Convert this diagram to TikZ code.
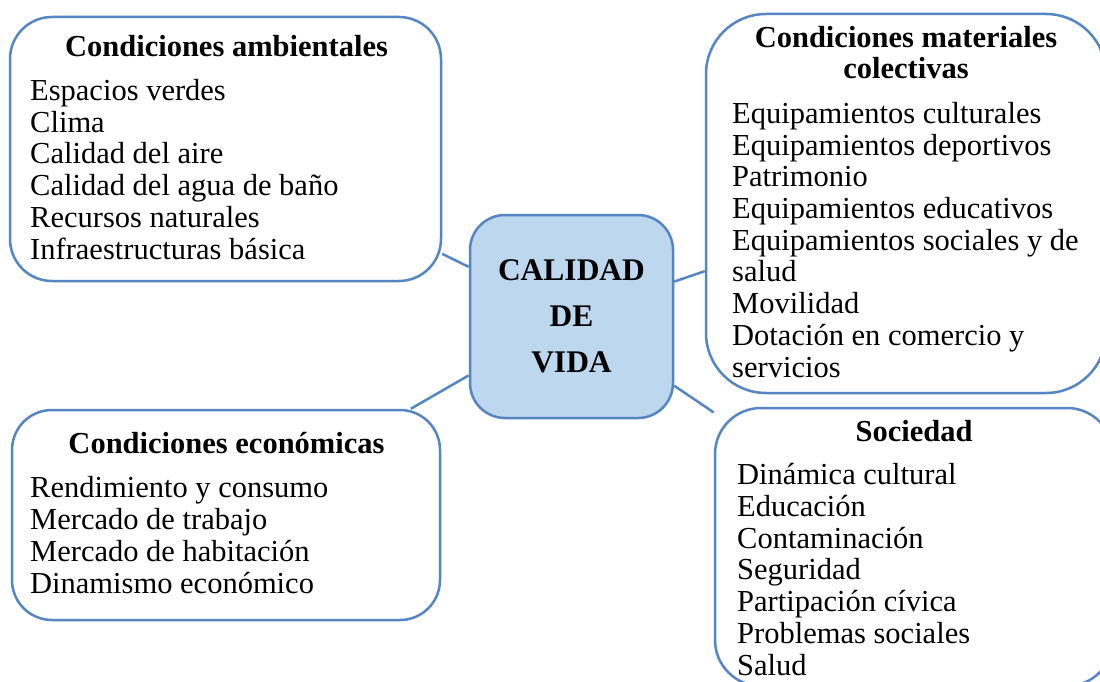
\documentclass[tikz,border=0pt]{standalone}
\usepackage{fontspec}
\setmainfont{Liberation Serif}
\definecolor{edgeblue}{HTML}{5585C2}
\definecolor{centfill}{HTML}{BDD7EE}
\begin{document}
\begin{tikzpicture}[x=1pt,y=-1pt,
  box/.style={draw=edgeblue, line width=2.5pt, rounded corners=#1, inner sep=0pt},
  box/.default=40pt,
  conn/.style={draw=edgeblue, line width=2.5pt},
  ttl/.style={anchor=base, inner sep=0pt, font=\fontsize{30.5pt}{31.7pt}\selectfont\bfseries, align=center},
  lst/.style={anchor=base west, inner sep=0pt, font=\fontsize{30.5pt}{31.7pt}\selectfont, align=left}]
\clip (0,0) rectangle (1100,682);
\fill[white] (0,0) rectangle (1100,682);
% boxes
\node[box=42pt, minimum width=431pt, minimum height=264pt] (amb) at (225.5,149) {};
\node[box=60pt, minimum width=400pt, minimum height=379pt] (mat) at (906,203.5) {};
\node[box=35pt, fill=centfill, minimum width=203pt, minimum height=203pt,
      font=\fontsize{31.5pt}{46pt}\selectfont\bfseries, align=center] (cen) at (571.5,316.5) {CALIDAD\\DE\\VIDA};
\node[box=40pt, minimum width=428pt, minimum height=210pt] (eco) at (226,515) {};
\node[box=46pt, minimum width=398pt, minimum height=278pt] (soc) at (914,547) {};
% connectors
\draw[conn] (amb) -- (cen);
\draw[conn] (cen) -- (mat);
\draw[conn] (cen) -- (eco);
\draw[conn] (cen) -- (soc);
% texts (anchor base = baseline of the last line)
\node[ttl] (ambt) at (226.5,57) {Condiciones ambientales};
\node[lst] (ambl) at (30,259) {Espacios verdes\\Clima\\Calidad del aire\\Calidad del agua de baño\\Recursos naturales\\Infraestructuras básica};
\node[ttl] (matt) at (906,79) {Condiciones materiales\\colectivas};
\node[lst] (matl) at (732,377) {Equipamientos culturales\\Equipamientos deportivos\\Patrimonio\\Equipamientos educativos\\Equipamientos sociales y de\\salud\\Movilidad\\Dotación en comercio y\\servicios};
\node[ttl] (soct) at (914,441) {Sociedad};
\node[lst] (socl) at (737,675) {Dinámica cultural\\Educación\\Contaminación\\Seguridad\\Partipación cívica\\Problemas sociales\\Salud};
\node[ttl] (ecot) at (226.5,453) {Condiciones económicas};
\node[lst] (ecol) at (30,593) {Rendimiento y consumo\\Mercado de trabajo\\Mercado de habitación\\Dinamismo económico};
\end{tikzpicture}
\end{document}
